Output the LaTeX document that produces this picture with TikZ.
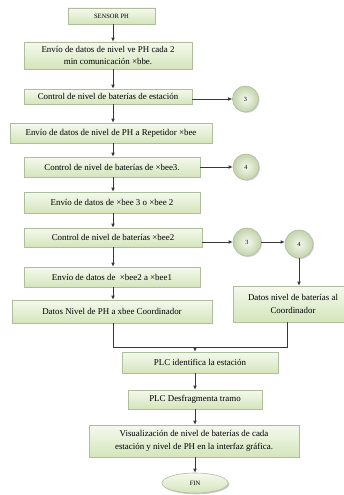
\documentclass[tikz,border=0pt]{standalone}
\usepackage{fontspec}
\setmainfont{Liberation Serif}
\usetikzlibrary{shapes.geometric,shadows,arrows.meta}
\definecolor{bord}{HTML}{AEBE9C}
\definecolor{ftop}{HTML}{F5F9EE}
\definecolor{fbot}{HTML}{D4E5BB}
\tikzset{
  box/.style={draw=bord, line width=0.6pt, top color=ftop, bottom color=fbot,
    inner sep=0pt, align=center, font=\fontsize{8.9}{12.8}\selectfont,
    drop shadow={shadow xshift=1.3pt, shadow yshift=-1.3pt, fill=black!40, opacity=0.5}},
  circ/.style={circle, draw=bord, line width=0.6pt, inner color=ftop, outer color=fbot!92!black,
    minimum size=26pt, inner sep=0pt, font=\fontsize{6.3}{7}\selectfont,
    drop shadow={shadow xshift=1pt, shadow yshift=-1pt, fill=black!40, opacity=0.4}},
  arr/.style={draw=black!78, line width=0.7pt, -{Latex[length=4pt,width=3.6pt]}},
  ln/.style={draw=black!78, line width=0.7pt}
}
\begin{document}
\begin{tikzpicture}[x=1pt,y=1pt]
\useasboundingbox (0,0) rectangle (343,-495);
\fill[white] (0,0) rectangle (343,-495);
\coordinate (sp) at (113,0);
\node[box, minimum width=87pt, minimum height=16pt, font=\fontsize{6.5}{8}\selectfont] (b1) at (111.5,-16) {SENSOR PH};
\node[box, minimum width=168pt, minimum height=27pt] (b2) at (108,-55.5) {Envío de datos de nivel ve PH cada 2\\min comunicación ×bbe.};
\node[box, minimum width=168pt, minimum height=15pt] (b3) at (108,-96.5) {Control de nivel de baterías de estación};
\node[circ] (c3a) at (245.5,-99) {3};
\node[box, minimum width=202pt, minimum height=20pt] (b4) at (111,-133) {Envío de datos de nivel de PH a Repetidor ×bee};
\node[box, minimum width=176pt, minimum height=20pt] (b5) at (112,-167) {Control de nivel de baterías de ×bee3.};
\node[circ] (c4a) at (246,-167) {4};
\node[box, minimum width=176pt, minimum height=21pt] (b6) at (112,-202.5) {Envío de datos de ×bee 3 o ×bee 2};
\node[box, minimum width=178pt, minimum height=19pt] (b7) at (113,-237.5) {Control de nivel de baterías ×bee2};
\node[circ, minimum size=28pt] (c3b) at (247,-242) {3};
\node[circ, minimum size=28pt] (c4b) at (299,-244) {4};
\node[box, minimum width=176pt, minimum height=20pt] (b8) at (112,-277) {Envío de datos de~~×bee2 a ×bee1};
\node[box, minimum width=200pt, minimum height=23pt] (b9) at (112,-311.5) {Datos Nivel de PH a xbee Coordinador};
\node[box, minimum width=120pt, minimum height=36pt] (b10) at (293,-304) {Datos nivel de baterías al\\Coordinador};
\node[box, minimum width=156pt, minimum height=21pt] (b11) at (200,-362.5) {PLC identifica la estación};
\node[box, minimum width=134pt, minimum height=19pt] (b12) at (195,-399.5) {PLC Desfragmenta tramo};
\node[box, minimum width=210pt, minimum height=32pt] (b13) at (194,-441) {Visualización de nivel de baterías de cada\\estación y nivel de PH en la interfaz gráfica.};
\node[box, ellipse, minimum width=66pt, minimum height=20pt, font=\fontsize{6.5}{8}\selectfont] (fin) at (195,-483) {FIN};
\coordinate (m) at (195,-347);
\coordinate (j) at (287,-347);
% spine
\draw[arr] (b1.south -| sp) -- (b2.north -| sp);
\draw[arr] (b2.south -| sp) -- (b3.north -| sp);
\draw[arr] (b3.south -| sp) -- (b4.north -| sp);
\draw[arr] (b4.south -| sp) -- (b5.north -| sp);
\draw[arr] (b5.south -| sp) -- (b6.north -| sp);
\draw[arr] (b6.south -| sp) -- (b7.north -| sp);
\draw[arr] (b7.south -| sp) -- (b8.north -| sp);
\draw[arr] (b8.south -| sp) -- (b9.north -| sp);
% side arrows
\draw[arr] (b3.east |- c3a) -- (c3a.west);
\draw[arr] (b5.east |- c4a) -- (c4a.west);
\draw[arr] (b7.east |- c3b) -- (c3b.west);
\draw[arr] (c3b.east) -- (c3b.east -| c4b.west);
\draw[arr] (c4b.south) -- (c4b.south |- b10.north);
% merge
\draw[ln] (b9.south -| sp) |- (j) -- (j |- b10.south);
\draw[arr] (m) -- (m |- b11.north);
\draw[arr] (b11.south -| m) -- (b12.north -| m);
\draw[arr] (b12.south -| m) -- (b13.north -| m);
\draw[arr] (b13.south -| m) -- (fin.north -| m);
\end{tikzpicture}
\end{document}
